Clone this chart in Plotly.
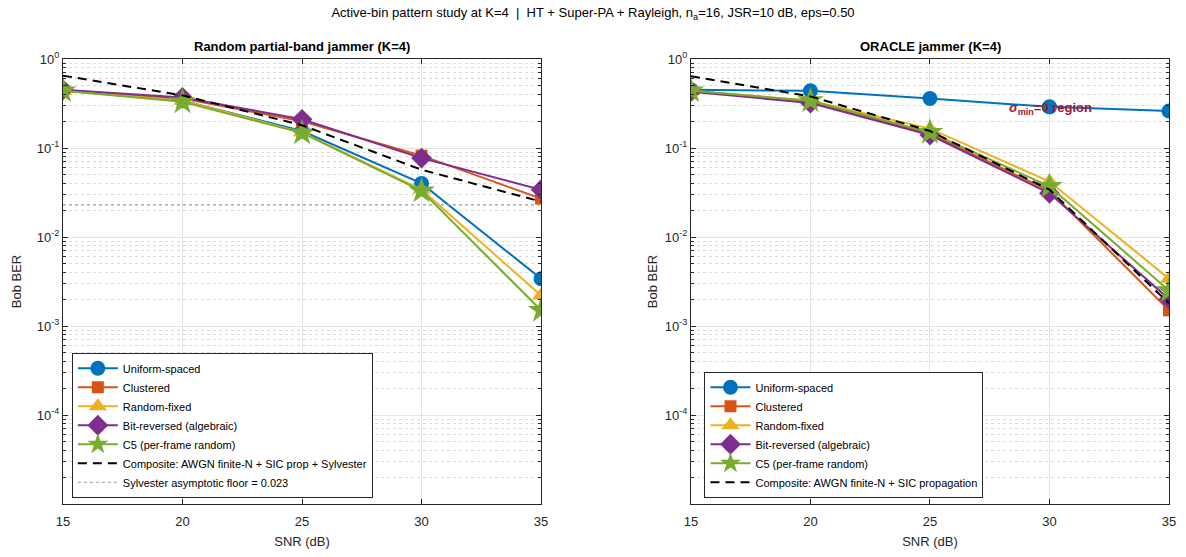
import plotly.graph_objects as go
from plotly.subplots import make_subplots

snr = [15, 20, 25, 30, 35]

# Random partial-band jammer (left)
uniform_rand = [0.45, 0.34, 0.155, 0.040, 0.0034]
clustered_rand = [0.44, 0.36, 0.20, 0.082, 0.027]
randfixed_rand = [0.44, 0.34, 0.15, 0.034, 0.0022]
bitrev_rand = [0.45, 0.37, 0.21, 0.077, 0.034]
c5_rand = [0.44, 0.33, 0.148, 0.033, 0.0015]
composite_rand = [0.65, 0.39, 0.18, 0.057, 0.025]
sylvester_floor = 0.023

# ORACLE jammer (right)
uniform_or = [0.45, 0.44, 0.36, 0.29, 0.26]
clustered_or = [0.44, 0.33, 0.145, 0.033, 0.0015]
randfixed_or = [0.44, 0.34, 0.165, 0.042, 0.0034]
bitrev_or = [0.43, 0.32, 0.14, 0.031, 0.002]
c5_or = [0.44, 0.34, 0.15, 0.037, 0.0025]
composite_or = [0.64, 0.38, 0.155, 0.034, 0.0018]

names = ["Uniform-spaced", "Clustered", "Random-fixed", "Bit-reversed (algebraic)", "C5 (per-frame random)"]
colors = ["#0072BD", "#D95319", "#EDB120", "#7E2F8E", "#77AC30"]
symbols = ["circle", "square", "triangle-up", "diamond", "star"]
msizes = [15, 12, 16, 16, 20]

FONT = "Liberation Sans, Arial, sans-serif"

fig = make_subplots(rows=1, cols=2, horizontal_spacing=0.1355)

left_series = [uniform_rand, clustered_rand, randfixed_rand, bitrev_rand, c5_rand]
right_series = [uniform_or, clustered_or, randfixed_or, bitrev_or, c5_or]

for col, series, leg in [(1, left_series, "legend"), (2, right_series, "legend2")]:
    for nm, c, s, ms, ys in zip(names, colors, symbols, msizes, series):
        fig.add_trace(go.Scatter(
            x=snr, y=ys, name=nm, mode="lines+markers",
            line=dict(color=c, width=2),
            marker=dict(symbol=s, size=ms, color=c, line=dict(width=0)),
            legend=leg), row=1, col=col)

fig.add_trace(go.Scatter(
    x=snr, y=composite_rand, name="Composite: AWGN finite-N + SIC prop + Sylvester",
    mode="lines", line=dict(color="black", width=2, dash="9px,6px"), legend="legend"), row=1, col=1)
fig.add_trace(go.Scatter(
    x=[snr[0], snr[-1]], y=[sylvester_floor, sylvester_floor],
    name="Sylvester asymptotic floor = 0.023",
    mode="lines", line=dict(color="#9a9a9a", width=1.2, dash="dot"), legend="legend"), row=1, col=1)
fig.add_trace(go.Scatter(
    x=snr, y=composite_or, name="Composite: AWGN finite-N + SIC propagation",
    mode="lines", line=dict(color="black", width=2, dash="9px,6px"), legend="legend2"), row=1, col=2)

minor_vals = [k * 10.0 ** e for e in range(-5, 0) for k in range(2, 10)]
ytickvals = [1e-4, 1e-3, 1e-2, 1e-1, 1]
yticktext = ["10<sup>-4</sup>", "10<sup>-3</sup>", "10<sup>-2</sup>", "10<sup>-1</sup>", "10<sup>0</sup>"]

axcol = "#262626"
for col in (1, 2):
    fig.update_xaxes(row=1, col=col, range=[15, 35], tickvals=snr,
                     showline=True, linecolor=axcol, linewidth=1, mirror="ticks",
                     ticks="inside", ticklen=5, tickcolor=axcol, ticklabelstandoff=5,
                     showgrid=True, gridcolor="#e3e3e3", gridwidth=1, zeroline=False,
                     title=dict(text="SNR (dB)", font=dict(size=13, color="#262626"), standoff=9),
                     tickfont=dict(size=13, color="#262626"))
    fig.update_yaxes(row=1, col=col, type="log", range=[-5, 0],
                     tickvals=ytickvals, ticktext=yticktext,
                     showline=True, linecolor=axcol, linewidth=1, mirror="ticks",
                     ticks="inside", ticklen=5, tickcolor=axcol,
                     showgrid=True, gridcolor="#e3e3e3", gridwidth=1, zeroline=False,
                     minor=dict(tickvals=minor_vals, ticks="inside", ticklen=3, tickcolor=axcol,
                                showgrid=True, gridcolor="#dadada", griddash="dot", gridwidth=1),
                     title=dict(text="Bob BER", font=dict(size=13, color="#262626"),
                                standoff=12 if col == 1 else 4),
                     tickfont=dict(size=13, color="#262626"))

fig.add_annotation(x=30.05, y=-0.555, xref="x2", yref="y2", text="<i>σ</i><sub>min</sub>=0 region",
                   showarrow=False, font=dict(family=FONT, size=13, color="#A2142F", weight="bold"),
                   xanchor="center", yanchor="middle")

legend_common = dict(bgcolor="white", bordercolor="#262626", borderwidth=1,
                     font=dict(family=FONT, size=11, color="black"),
                     tracegroupgap=0, itemwidth=40, xanchor="left", yanchor="bottom")

fig.update_layout(
    width=1186, height=557,
    margin=dict(l=63, r=10, t=59, b=50),
    paper_bgcolor="white", plot_bgcolor="white",
    font=dict(family=FONT, color="#262626"),
    title=dict(text="Active-bin pattern study at K=4  |  HT + Super-PA + Rayleigh, n<sub>a</sub>=16, JSR=10 dB, eps=0.50",
               x=0.5, xanchor="center", y=0.985, yanchor="top", font=dict(size=13, color="black")),
    legend=dict(x=0.008, y=0.014, **legend_common),
    legend2=dict(x=0.58, y=0.014, **legend_common),
    annotations=list(fig.layout.annotations) + [
        dict(text="<b>Random partial-band jammer (K=4)</b>", x=0.2165, y=1.0, xref="paper", yref="paper",
             yanchor="bottom", xanchor="center", showarrow=False, yshift=3, font=dict(size=13, color="black")),
        dict(text="<b>ORACLE jammer (K=4)</b>", x=0.784, y=1.0, xref="paper", yref="paper",
             yanchor="bottom", xanchor="center", showarrow=False, yshift=3, font=dict(size=13, color="black")),
    ],
)

fig.write_html("out.html")
